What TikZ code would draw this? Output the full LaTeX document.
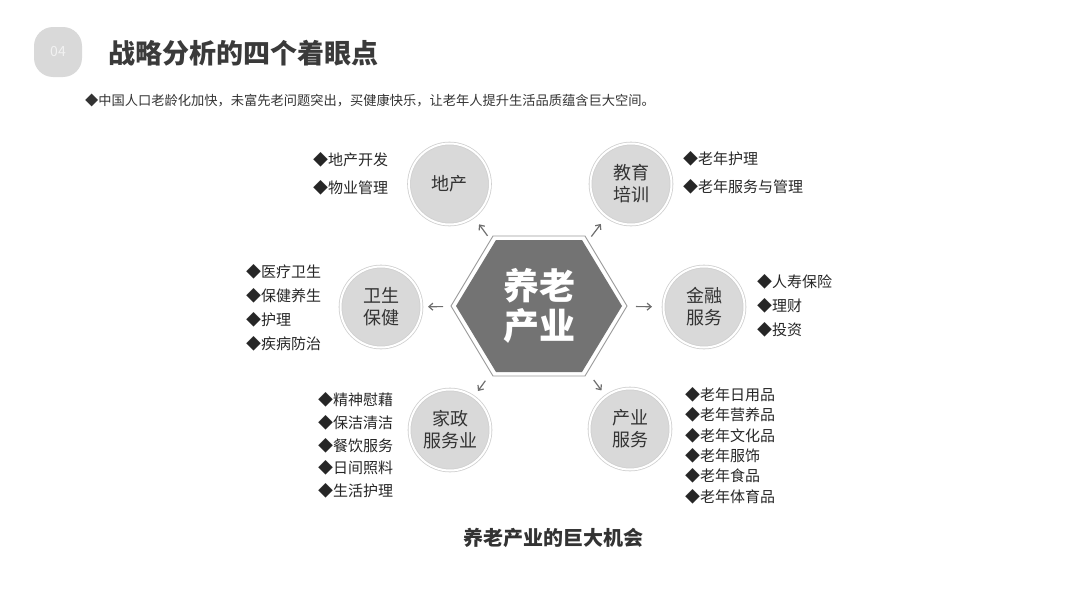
\documentclass[tikz,border=0pt]{standalone}
\usepackage{fontspec}
\setmainfont{Noto Sans CJK SC}
\usepackage{tikz}
\usetikzlibrary{shapes.geometric, arrows.meta, calc}
\usepackage{xcolor}
\definecolor{hexgray}{HTML}{737373}
\definecolor{rimgray}{HTML}{9A9A9A}
\definecolor{circgray}{HTML}{D9D9D9}
\definecolor{ringgray}{HTML}{D0D0D0}
\definecolor{txtgray}{HTML}{333333}
\definecolor{titlegray}{HTML}{3A3A3A}
\definecolor{arrgray}{HTML}{6E6E6E}
\begin{document}
\begin{tikzpicture}[x=1pt, y=-1pt,
  badge/.style={fill=circgray, rounded corners=19pt, minimum width=48pt, minimum height=50pt, text=white!90!gray, font=\fontsize{14}{14}\selectfont},
  sector/.style={circle, minimum size=81pt, fill=circgray, draw=ringgray, line width=0.8pt, double=white, double distance=2pt, align=center, text=txtgray, font=\fontsize{18}{22}\selectfont},
  items/.style={anchor=west, inner sep=0pt, align=left, text=black!85, font=\fontsize{15}{#1}\selectfont},
  arr/.style={-{Straight Barb[length=4pt,width=7pt]}, draw=arrgray, line width=1.2pt}]
\useasboundingbox (0,0) rectangle (1080,608);
\node[badge] (num) at (58,52) {04};
\node[anchor=west, inner sep=0pt, text=titlegray, font=\fontsize{27}{27}\selectfont\bfseries] (title) at (108,53) {战略分析的四个着眼点};
\node[anchor=west, inner sep=0pt, text=txtgray, font=\fontsize{13.25}{13.25}\selectfont] (sub) at (85,100) {◆中国人口老龄化加快，未富先老问题突出，买健康快乐，让老年人提升生活品质蕴含巨大空间。};
\draw[rimgray, fill=white, line width=0.9pt] (451,306) -- (493,236) -- (585,236) -- (627,306) -- (585,376) -- (493,376) -- cycle;
\fill[hexgray] (456,306) -- (496,240) -- (582,240) -- (622,306) -- (582,372) -- (496,372) -- cycle;
\node[inner sep=0pt, align=center, text=white, font=\fontsize{36}{40}\selectfont\bfseries] (hex) at (539,306) {养老\\产业};
\node[sector] (dc) at (449.5,184) {地产};
\node[sector] (jy) at (631,184) {教育\\培训};
\node[sector] (ws) at (381,307) {卫生\\保健};
\node[sector] (jr) at (704,307) {金融\\服务};
\node[sector] (jz) at (450,430) {家政\\服务业};
\node[sector] (cy) at (630,429) {产业\\服务};
\foreach \c/\a/\b in {dc/87/50, jy/87/50, ws/96/47, jr/97/52, jz/92/48, cy/92/48}
  \draw[arr, shorten <=\a pt, shorten >=\b pt] (hex.center) -- (\c.center);
\node[items=28] (dcl) at (313,174) {◆地产开发\\◆物业管理};
\node[items=28] (jyl) at (683,173) {◆老年护理\\◆老年服务与管理};
\node[items=24] (wsl) at (246,308) {◆医疗卫生\\◆保健养生\\◆护理\\◆疾病防治};
\node[items=24] (jrl) at (757,306) {◆人寿保险\\◆理财\\◆投资};
\node[items=22.75] (jzl) at (318,445.5) {◆精神慰藉\\◆保洁清洁\\◆餐饮服务\\◆日间照料\\◆生活护理};
\node[items=20.4] (cyl) at (685,445.5) {◆老年日用品\\◆老年营养品\\◆老年文化品\\◆老年服饰\\◆老年食品\\◆老年体育品};
\node[text=txtgray, font=\fontsize{20}{20}\selectfont\bfseries] (cap) at (553,538) {养老产业的巨大机会};
\end{tikzpicture}
\end{document}
